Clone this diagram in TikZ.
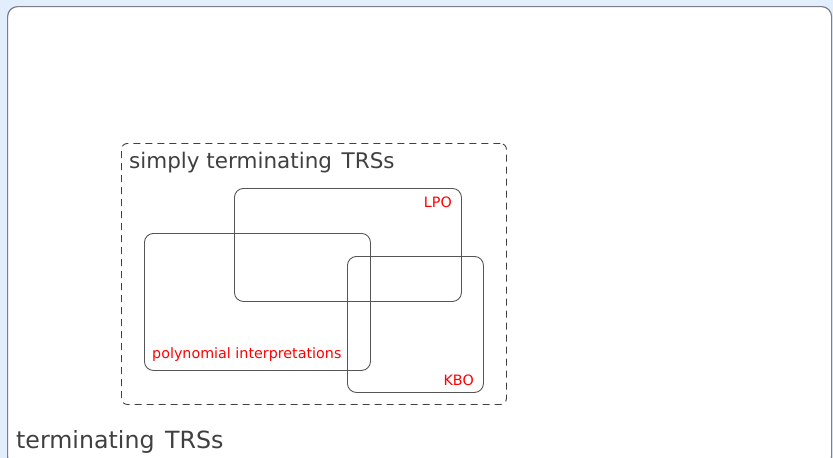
\documentclass[tikz,border=0pt]{standalone}
\usepackage{fontspec}
\setmainfont{DejaVu Sans}
\usetikzlibrary{positioning}
\definecolor{pagebg}{HTML}{E3EEFC}
\definecolor{frameline}{HTML}{7A7F8A}
\definecolor{textgray}{HTML}{404040}
\definecolor{boxline}{HTML}{555555}

\begin{document}
\begin{tikzpicture}[x=1pt,y=-1pt,
    setbox/.style={draw=boxline, line width=0.9pt, rounded corners=9pt, inner sep=0pt},
    biglabel/.style={text=textgray, inner sep=0pt, font=\fontsize{21.5}{25}\selectfont},
    redlabel/.style={text=red, inner sep=0pt, font=\fontsize{14.3}{17}\selectfont}]

    % Background
    \useasboundingbox (0,0) rectangle (833,458);
    \fill[pagebg] (0,0) rectangle (833,458);

    % Outer frame
    \node[draw=frameline, fill=white, line width=1.2pt, rounded corners=10pt,
          minimum width=824pt, minimum height=460pt, anchor=north west] (term) at (7,6) {};
    \node[biglabel, font=\fontsize{23.7}{28}\selectfont, anchor=base west] (termlab) at (16,448)
        {terminating\hspace{0.45em}TRSs};

    % Simply terminating
    \node[draw=textgray, dash pattern=on 7pt off 5pt, line width=0.9pt, rounded corners=6pt,
          minimum width=385pt, minimum height=261pt, anchor=north west] (simple) at (121,143) {};
    \node[biglabel, anchor=base west] (simplelab) at (129,168) {simply terminating\hspace{0.45em}TRSs};

    % LPO
    \node[setbox, minimum width=227pt, minimum height=113pt, anchor=north west] (lpo) at (234,188) {};
    \node[redlabel, anchor=base east] (lpolab) at (452,207) {LPO};

    % polynomial interpretations
    \node[setbox, minimum width=226pt, minimum height=137pt, anchor=north west] (poly) at (144,233) {};
    \node[redlabel, anchor=base west] (polylab) at (152,358) {polynomial interpretations};

    % KBO
    \node[setbox, minimum width=136pt, minimum height=136pt, anchor=north west] (kbo) at (347,256) {};
    \node[redlabel, anchor=base east] (kbolab) at (474,385) {KBO};

\end{tikzpicture}
\end{document}
